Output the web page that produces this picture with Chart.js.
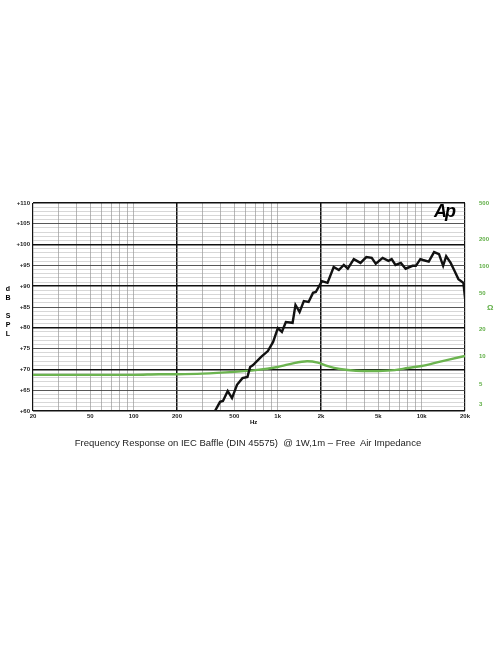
<!DOCTYPE html>
<html lang="en">
<head>
<meta charset="UTF-8">
<title>Frequency Response</title>
<script src="https://cdn.jsdelivr.net/npm/chart.js"></script>
<style>
    body { margin: 0; background: #fff; font-family: "Liberation Sans", Arial, sans-serif; }
    .wrap { position: relative; width: 496px; height: 664px; }
    canvas { position: absolute; left: 0; top: 0; }
    .lbl { position: absolute; font-weight: bold; }
</style>
</head>
<body>
<div class="wrap">
    <canvas id="chart" width="496" height="664"></canvas>
    <div class="lbl" style="left:4px;top:284px;font-size:7px;line-height:9px;text-align:center;width:8px;">d<br>B<br><br>S<br>P<br>L</div>
    <div class="lbl" style="left:487px;top:303px;font-size:8px;color:#5fae45;">Ω</div>
    <div class="lbl" style="left:250px;top:419px;font-size:6px;">Hz</div>
    <div class="lbl" style="left:434px;top:201px;font-size:18px;font-style:italic;letter-spacing:-2px;">Ap</div>
    <div style="position:absolute;left:0;width:496px;top:437px;text-align:center;font-size:9.5px;color:#222;">Frequency Response on IEC Baffle (DIN 45575)&nbsp; @ 1W,1m – Free&nbsp; Air Impedance</div>
</div>
<script>
const splFreq = [367, 398, 417, 450, 482, 522, 570, 617, 644, 672, 768, 855, 930, 1003, 1070, 1140, 1270, 1330, 1420, 1520, 1640, 1760, 1840, 2030, 2220, 2450, 2660, 2880, 3070, 3380, 3760, 4130, 4500, 4800, 5360, 5880, 6190, 6580, 7170, 7740, 8640, 9120, 9790, 10200, 11200, 12200, 13200, 14100, 14800, 15900, 16900, 18000, 19500, 20300];
const splDb = [60, 62.2, 62.4, 64.8, 63.1, 66.3, 67.9, 68.2, 70.6, 71, 73, 74.4, 76.6, 79.9, 79, 81.4, 81.2, 85.5, 83.8, 86.4, 86.2, 88.4, 88.6, 91.2, 90.8, 94.6, 93.9, 95.1, 94.2, 96.5, 95.6, 97, 96.8, 95.4, 96.8, 96.1, 96.5, 95.1, 95.6, 94.2, 94.9, 94.9, 96.5, 96.3, 95.9, 98.2, 97.7, 94.9, 97.2, 95.6, 93.7, 91.7, 90.8, 85.2];
const impFreq = [20, 50, 100, 150, 200, 300, 500, 700, 1000, 1300, 1600, 1900, 2200, 2700, 3500, 5000, 6500, 8000, 10000, 13000, 16000, 20000];
const impOhm = [6.3, 6.3, 6.3, 6.4, 6.4, 6.5, 6.8, 7.1, 7.7, 8.5, 8.9, 8.6, 7.9, 7.3, 7.0, 6.95, 7.1, 7.5, 7.9, 8.7, 9.4, 10.2];
const freqLabels = [20, 50, 100, 200, 500, 1000, 2000, 5000, 10000, 20000];
const ohmTicks = [3, 5, 10, 20, 50, 100, 200, 500];

const freqGrid = [];
[10, 100, 1000, 10000].forEach(d => { for (let m = 1; m < 10; m++) { const f = d * m; if (f >= 20 && f <= 20000) freqGrid.push(f); } });

function fmtFreq(f) { return f >= 1000 ? (f / 1000) + 'k' : String(f); }

new Chart(document.getElementById('chart'), {
    type: 'line',
    data: {
        datasets: [
            { data: splFreq.map((f, i) => ({ x: f, y: splDb[i] })), borderColor: '#111', borderWidth: 2.4, pointRadius: 0, yAxisID: 'y', clip: 0 },
            { data: impFreq.map((f, i) => ({ x: f, y: impOhm[i] })), borderColor: '#6cb450', borderWidth: 2.4, pointRadius: 0, yAxisID: 'y2', tension: 0.3 }
        ]
    },
    options: {
        responsive: false,
        animation: false,
        layout: { padding: { top: 203 } },
        plugins: { legend: { display: false }, tooltip: { enabled: false } },
        scales: {
            x: {
                type: 'logarithmic', min: 20, max: 20000,
                afterBuildTicks: s => { s.ticks = freqGrid.map(v => ({ value: v })); },
                afterFit: s => { s.height = 253; },
                ticks: {
                    autoSkip: false, maxRotation: 0, color: '#222', font: { size: 6, weight: 'bold' }, padding: 2,
                    callback: v => freqLabels.includes(v) ? fmtFreq(v) : ''
                },
                grid: {
                    drawTicks: false,
                    color: c => [20, 200, 2000, 20000].includes(c.tick.value) ? '#111' : '#888',
                    lineWidth: c => [200, 2000].includes(c.tick.value) ? 1.5 : ([20, 20000].includes(c.tick.value) ? 1.2 : 0.6)
                },
                border: { display: false }
            },
            y: {
                position: 'left', min: 60, max: 110,
                afterFit: s => { s.width = 33; },
                afterBuildTicks: s => { const t = []; for (let v = 60; v <= 110; v++) t.push({ value: v }); s.ticks = t; },
                ticks: { autoSkip: false, color: '#222', font: { size: 6, weight: 'bold' }, padding: 3, callback: v => v % 5 === 0 ? '+' + v : '' },
                grid: {
                    drawTicks: false,
                    color: c => c.tick.value % 10 === 0 ? '#111' : (c.tick.value % 5 === 0 ? '#444' : '#999'),
                    lineWidth: c => c.tick.value % 10 === 0 ? 1.5 : (c.tick.value % 5 === 0 ? 0.9 : 0.4)
                },
                border: { display: false }
            },
            y2: {
                type: 'logarithmic', position: 'right', min: 2.51, max: 500,
                afterFit: s => { s.width = 31; },
                afterBuildTicks: s => { s.ticks = ohmTicks.map(v => ({ value: v })); },
                ticks: { autoSkip: false, color: '#5fae45', font: { size: 6, weight: 'bold' }, padding: 6, callback: v => String(v) },
                grid: { display: false },
                border: { display: false }
            }
        }
    }
});
</script>
</body>
</html>
